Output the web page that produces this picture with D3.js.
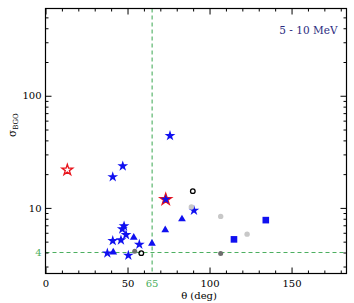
<!DOCTYPE html>
<html>
<head>
<meta charset="utf-8">
<script src="https://cdn.jsdelivr.net/npm/d3@7"></script>
<style>
  body { margin: 0; background: #fff; }
  svg text { font-family: "DejaVu Serif", serif; }
</style>
</head>
<body>
<div id="chart"></div>
<script>
// data: theta (deg), sigma_BGO
const blueStars = [
  [47.1, 23.6], [41.0, 18.9], [75.9, 44], [90.5, 9.5],
  [47.9, 6.88], [46.8, 6.47], [49.1, 5.75], [46.0, 5.16], [41.0, 5.09],
  [57.2, 4.72], [37.7, 3.95], [50.5, 3.77]
];
const redStars = [[13.3, 21.8]];
const redBlueStars = [[73.3, 11.9]];
const blueTriangles = [[41.3, 4.03], [53.8, 5.45], [64.9, 4.82], [73.0, 6.34], [83.2, 7.94]];
const blueSquares = [[114.9, 5.24], [134.3, 7.78]];
const lightGrayDots = [[88.9, 10.2], [106.8, 8.4], [122.9, 5.83]];
const darkGrayDots = [[54.4, 4.11], [106.8, 3.92]];
const openCircles = [[58.4, 3.95], [89.8, 14.1]];

const xMajor = [0, 50, 100, 150];
const yMajor = [10, 100];
const thetaCut = 65;
const sigmaCut = 4;

const W = 354, H = 303;
const margin = { top: 8.5, right: 7.5, bottom: 29.5, left: 45.5 };
const width = W - margin.left - margin.right;
const height = H - margin.top - margin.bottom;
const fs = 10;

const svg = d3.select("#chart").append("svg")
    .attr("width", W)
    .attr("height", H);

const g = svg.append("g")
    .attr("transform", `translate(${margin.left},${margin.top})`);

const x = d3.scaleLinear().domain([0, 183.5]).range([0, width]);
const y = d3.scaleLog().domain([2.6, 600]).range([height, 0]);

const green = "#4caf60";

// reference lines
g.append("line")
    .attr("x1", 0).attr("x2", width)
    .attr("y1", y(sigmaCut)).attr("y2", y(sigmaCut))
    .attr("stroke", green).attr("stroke-width", 1.1)
    .attr("stroke-dasharray", "4,3");
g.append("line")
    .attr("x1", x(thetaCut)).attr("x2", x(thetaCut))
    .attr("y1", 0).attr("y2", height)
    .attr("stroke", green).attr("stroke-width", 1.1)
    .attr("stroke-dasharray", "4,3");

// axes: ticks inside, mirrored on top and right
const xMinor = d3.range(0, 184, 10).filter(d => !xMajor.includes(d));
const yMinor = [];
[1, 10, 100].forEach(dec => {
    for (let k = 2; k <= 9; k++) {
        const v = k * dec;
        if (v > 2.6 && v < 600 && !yMajor.includes(v)) yMinor.push(v);
    }
});

function styleAxis(sel) {
    sel.select(".domain").remove();
    sel.selectAll("line").attr("stroke", "#000").attr("stroke-width", 1);
    sel.selectAll("text")
        .attr("font-family", "DejaVu Serif, serif")
        .attr("font-size", fs)
        .attr("fill", "#000");
}

g.append("g").attr("transform", `translate(0,${height})`)
    .call(d3.axisBottom(x).tickValues(xMajor).tickSize(-6).tickPadding(6.5).tickFormat(d3.format("d")))
    .call(styleAxis);
g.append("g").attr("transform", `translate(0,${height})`)
    .call(d3.axisBottom(x).tickValues(xMinor).tickSize(-3).tickFormat(""))
    .call(styleAxis);
g.append("g")
    .call(d3.axisTop(x).tickValues(xMajor).tickSize(-6).tickFormat(""))
    .call(styleAxis);
g.append("g")
    .call(d3.axisTop(x).tickValues(xMinor).tickSize(-3).tickFormat(""))
    .call(styleAxis);

g.append("g")
    .call(d3.axisLeft(y).tickValues(yMajor).tickSize(-6).tickPadding(4).tickFormat(d3.format("d")))
    .call(styleAxis);
g.append("g")
    .call(d3.axisLeft(y).tickValues(yMinor).tickSize(-3).tickFormat(""))
    .call(styleAxis);
g.append("g").attr("transform", `translate(${width},0)`)
    .call(d3.axisRight(y).tickValues(yMajor).tickSize(-6).tickFormat(""))
    .call(styleAxis);
g.append("g").attr("transform", `translate(${width},0)`)
    .call(d3.axisRight(y).tickValues(yMinor).tickSize(-3).tickFormat(""))
    .call(styleAxis);

// frame
g.append("rect")
    .attr("width", width).attr("height", height)
    .attr("fill", "none").attr("stroke", "#000").attr("stroke-width", 1.2);

// green cut labels
g.append("text")
    .attr("x", x(thetaCut)).attr("y", height + 6.5).attr("dy", "0.71em")
    .attr("text-anchor", "middle")
    .attr("font-size", fs).attr("fill", green)
    .text(thetaCut);
g.append("text")
    .attr("x", -4).attr("y", y(sigmaCut)).attr("dy", "0.32em")
    .attr("text-anchor", "end")
    .attr("font-size", fs).attr("fill", green)
    .text(sigmaCut);

// markers
const star = d3.symbol().type(d3.symbolStar);
const tri = d3.symbol().type(d3.symbolTriangle).size(26);

g.selectAll(".rstar").data(redStars).join("path")
    .attr("transform", d => `translate(${x(d[0])},${y(d[1])})`)
    .attr("d", star.size(36)())
    .attr("fill", "#fff").attr("stroke", "#e8141c").attr("stroke-width", 1.3);

g.selectAll(".rbstar").data(redBlueStars).join("path")
    .attr("transform", d => `translate(${x(d[0])},${y(d[1])})`)
    .attr("d", star.size(40)())
    .attr("fill", "#e8141c").attr("stroke", "#e8141c").attr("stroke-width", 1.4);
g.selectAll(".rbstar2").data(redBlueStars).join("path")
    .attr("transform", d => `translate(${x(d[0])},${y(d[1])})`)
    .attr("d", star.size(30)())
    .attr("fill", "#1010f0");

g.selectAll(".bstar").data(blueStars).join("path")
    .attr("transform", d => `translate(${x(d[0])},${y(d[1])})`)
    .attr("d", star.size(36)())
    .attr("fill", "#1010f0");

g.selectAll(".btri").data(blueTriangles).join("path")
    .attr("transform", d => `translate(${x(d[0])},${y(d[1])})`)
    .attr("d", tri())
    .attr("fill", "#1010f0");

g.selectAll(".bsq").data(blueSquares).join("rect")
    .attr("x", d => x(d[0]) - 3.3).attr("y", d => y(d[1]) - 3.3)
    .attr("width", 6.6).attr("height", 6.6)
    .attr("fill", "#1010f0");

g.selectAll(".lg").data(lightGrayDots).join("circle")
    .attr("cx", d => x(d[0])).attr("cy", d => y(d[1])).attr("r", 2.7)
    .attr("fill", "#c8c8c8");

g.selectAll(".dg").data(darkGrayDots).join("circle")
    .attr("cx", d => x(d[0])).attr("cy", d => y(d[1])).attr("r", 2.5)
    .attr("fill", "#6e6e6e");

g.selectAll(".oc").data(openCircles).join("circle")
    .attr("cx", d => x(d[0])).attr("cy", d => y(d[1])).attr("r", 2.3)
    .attr("fill", "none").attr("stroke", "#000").attr("stroke-width", 1.3);

// energy label
g.append("text")
    .attr("x", width - 9).attr("y", 25)
    .attr("text-anchor", "end")
    .attr("font-size", 10.5).attr("fill", "#2b2b80")
    .text("5 - 10 MeV");

// axis titles
svg.append("text")
    .attr("x", margin.left + width / 2 + 3).attr("y", 299)
    .attr("text-anchor", "middle")
    .attr("font-size", fs)
    .text("θ (deg)");

const yt = svg.append("text")
    .attr("transform", "translate(16,137) rotate(-90)")
    .attr("font-size", 10.5);
yt.append("tspan").text("σ");
yt.append("tspan").attr("font-size", 7).attr("dy", 2).text("BGO");
</script>
</body>
</html>
